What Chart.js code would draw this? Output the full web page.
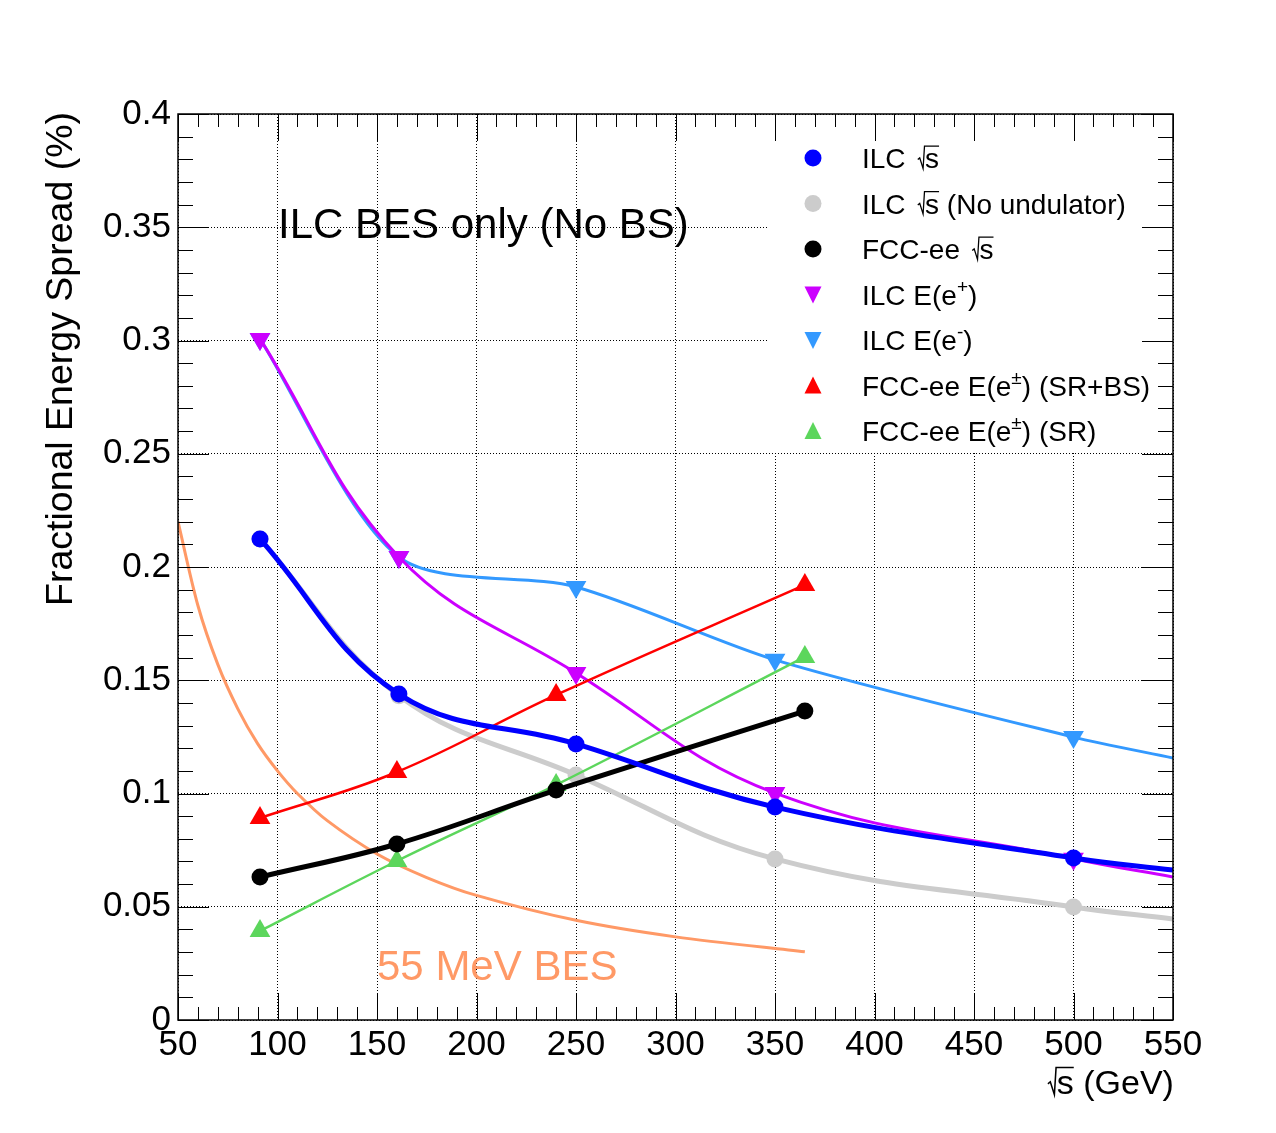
<!DOCTYPE html>
<html>
<head>
<meta charset="utf-8">
<script src="https://cdn.jsdelivr.net/npm/chart.js@4.4.1/dist/chart.umd.min.js"></script>
<style>
  html, body { margin: 0; padding: 0; background: #fff; }
  canvas { display: block; }
</style>
</head>
<body>
<canvas id="besChart" width="1276" height="1133"></canvas>
<script>
// energy points (GeV) and spreads (%)
const xIlc = [91.2, 161, 250, 350, 500, 550];
const ilcSqrtS = [0.2124, 0.1439, 0.1219, 0.0940, 0.0715, 0.0662];
const ilcNoUnd = [0.2124, 0.1432, 0.1082, 0.0711, 0.0499, 0.0446];
const ilcEplus = [0.3007, 0.2044, 0.1532, 0.1002, 0.0712, 0.0631];
const ilcEminus = [0.3007, 0.2044, 0.1912, 0.1590, 0.1249, 0.1157];

const xFcc = [91.2, 160, 240, 365];
const fccSqrtS = [0.0631, 0.0777, 0.1015, 0.1364];
const fccSrBs = [0.0892, 0.1095, 0.1435, 0.1921];
const fccSr = [0.0393, 0.0702, 0.1038, 0.1603];

const xBes = [50, 60, 70, 80, 90, 100, 110, 125, 150, 175, 200, 250, 300, 365];
const bes55 = [0.22, 0.183, 0.157, 0.1375, 0.122, 0.11, 0.1, 0.088, 0.0733, 0.0629, 0.055, 0.044, 0.0367, 0.0301];

const xTicks = [50, 100, 150, 200, 250, 300, 350, 400, 450, 500, 550];
const yTicks = [0, 0.05, 0.1, 0.15, 0.2, 0.25, 0.3, 0.35, 0.4];

const FONT = '"Liberation Sans", Arial, Helvetica, sans-serif';

function pts(xs, ys) {
    return ys.map((y, i) => ({ x: xs[i], y: y }));
}

// last ILC point is only the curve at the frame edge, no marker there
const ilcRadius = r => ctx => ctx.dataIndex === xIlc.length - 1 ? 0 : r;

function series(label, xs, ys, color, width, style, radius, rot) {
    return {
        label: label,
        data: pts(xs, ys),
        showLine: true,
        borderColor: color,
        backgroundColor: color,
        borderWidth: width,
        tension: 0.4,
        pointStyle: style,
        pointRadius: radius,
        pointRotation: rot || 0,
        pointBorderWidth: 0,
        pointHoverRadius: radius
    };
}

const datasets = [
    series('ILC sqrt s', xIlc, ilcSqrtS, '#0000ff', 5, 'circle', ilcRadius(8.5)),
    series('FCC-ee sqrt s', xFcc, fccSqrtS, '#000000', 5, 'circle', 8.5),
    series('FCC-ee SR+BS', xFcc, fccSrBs, '#ff0000', 2.5, 'triangle', 12),
    series('FCC-ee SR', xFcc, fccSr, '#5cd65c', 2.5, 'triangle', 12),
    series('ILC E(e+)', xIlc, ilcEplus, '#cc00ff', 3, 'triangle', ilcRadius(12), 180),
    series('ILC E(e-)', xIlc, ilcEminus, '#3399ff', 3, 'triangle', ilcRadius(12), 180),
    series('ILC no undulator', xIlc, ilcNoUnd, '#cccccc', 5, 'circle', ilcRadius(8.5)),
    series('55 MeV BES', xBes, bes55, '#ff9966', 3, 'circle', 0)
];
datasets[5].tension = 0.28;
datasets[7].tension = 0.3;

const legendRows = [
    { color: '#0000ff', shape: 'circle', parts: [{ t: 'ILC  ' }, { t: 's', sqrt: true }] },
    { color: '#cccccc', shape: 'circle', parts: [{ t: 'ILC  ' }, { t: 's', sqrt: true }, { t: ' (No undulator)' }] },
    { color: '#000000', shape: 'circle', parts: [{ t: 'FCC-ee  ' }, { t: 's', sqrt: true }] },
    { color: '#cc00ff', shape: 'down', parts: [{ t: 'ILC E(e' }, { t: '+', sup: true }, { t: ')' }] },
    { color: '#3399ff', shape: 'down', parts: [{ t: 'ILC E(e' }, { t: '-', sup: true }, { t: ')' }] },
    { color: '#ff0000', shape: 'up', parts: [{ t: 'FCC-ee E(e' }, { t: '\u00b1', sup: true }, { t: ') (SR+BS)' }] },
    { color: '#5cd65c', shape: 'up', parts: [{ t: 'FCC-ee E(e' }, { t: '\u00b1', sup: true }, { t: ') (SR)' }] }
];

// draws text pieces with superscripts and a drawn radical sign
function drawRich(ctx, parts, x, y, size) {
    ctx.textAlign = 'left';
    ctx.textBaseline = 'alphabetic';
    parts.forEach(p => {
        if (p.sup) {
            ctx.font = Math.round(size * 0.68) + 'px ' + FONT;
            ctx.fillText(p.t, x, y - size * 0.42);
            x += ctx.measureText(p.t).width;
        } else if (p.sqrt) {
            ctx.font = size + 'px ' + FONT;
            const w = ctx.measureText(p.t).width;
            const top = y - size * 0.78;
            ctx.save();
            ctx.lineWidth = Math.max(1, size / 22);
            ctx.strokeStyle = ctx.fillStyle;
            ctx.beginPath();
            ctx.moveTo(x - size * 0.12, y - size * 0.3);
            ctx.lineTo(x - size * 0.05, y - size * 0.36);
            ctx.lineTo(x + size * 0.07, y + size * 0.02);
            ctx.lineTo(x + size * 0.12, top);
            ctx.lineTo(x + size * 0.14 + w, top);
            ctx.stroke();
            ctx.restore();
            ctx.fillText(p.t, x + size * 0.14, y);
            x += w + size * 0.14;
        } else {
            ctx.font = size + 'px ' + FONT;
            ctx.fillText(p.t, x, y);
            x += ctx.measureText(p.t).width;
        }
    });
}

function marker(ctx, shape, x, y, color) {
    ctx.fillStyle = color;
    ctx.beginPath();
    if (shape === 'circle') {
        ctx.arc(x, y, 8.5, 0, Math.PI * 2);
    } else if (shape === 'up') {
        ctx.moveTo(x, y - 9);
        ctx.lineTo(x + 8.5, y + 8);
        ctx.lineTo(x - 8.5, y + 8);
        ctx.closePath();
    } else {
        ctx.moveTo(x, y + 9);
        ctx.lineTo(x + 8.5, y - 8);
        ctx.lineTo(x - 8.5, y - 8);
        ctx.closePath();
    }
    ctx.fill();
}

const rootStyle = {
    id: 'rootStyle',
    afterDatasetsDraw(chart) {
        const ctx = chart.ctx;
        const a = chart.chartArea;
        ctx.save();
        // legend box
        ctx.fillStyle = '#ffffff';
        ctx.fillRect(768, a.top + 1, a.right - 768, 453 - a.top - 1);
        legendRows.forEach((row, i) => {
            const y = 158 + i * 45.5;
            marker(ctx, row.shape, 813, y, row.color);
            ctx.fillStyle = '#000000';
            drawRich(ctx, row.parts, 862, y + 10, 28);
        });
        // labels inside the frame
        ctx.fillStyle = '#000000';
        ctx.font = '42px ' + FONT;
        ctx.textAlign = 'left';
        ctx.textBaseline = 'alphabetic';
        ctx.fillText('ILC BES only (No BS)', 278, 238);
        ctx.fillStyle = '#ff9966';
        ctx.fillText('55 MeV BES', 377, 980);
        ctx.restore();
    },
    afterDraw(chart) {
        const ctx = chart.ctx;
        const a = chart.chartArea;
        const xs = chart.scales.x, ys = chart.scales.y;
        ctx.save();
        ctx.strokeStyle = '#000000';
        ctx.lineWidth = 1;
        ctx.beginPath();
        for (let v = 50; v <= 550; v += 10) {
            const px = Math.round(xs.getPixelForValue(v)) + 0.5;
            const len = v % 50 === 0 ? 27 : 13;
            ctx.moveTo(px, a.bottom); ctx.lineTo(px, a.bottom - len);
            ctx.moveTo(px, a.top); ctx.lineTo(px, a.top + len);
        }
        for (let i = 0; i <= 40; i++) {
            const py = Math.round(ys.getPixelForValue(i / 100)) + 0.5;
            const len = i % 5 === 0 ? 31 : 15;
            ctx.moveTo(a.left, py); ctx.lineTo(a.left + len, py);
            ctx.moveTo(a.right, py); ctx.lineTo(a.right - len, py);
        }
        ctx.stroke();
        ctx.lineWidth = 1.5;
        ctx.strokeRect(Math.round(a.left), Math.round(a.top), Math.round(a.right - a.left), Math.round(a.bottom - a.top));

        // axis titles
        ctx.fillStyle = '#000000';
        drawRich(ctx, [{ t: 's', sqrt: true }, { t: ' (GeV)' }], 1052, 1094, 34);
        ctx.translate(72, 112);
        ctx.rotate(-Math.PI / 2);
        ctx.font = '37.5px ' + FONT;
        ctx.textAlign = 'right';
        ctx.textBaseline = 'alphabetic';
        ctx.fillText('Fractional Energy Spread (%)', 0, 0);
        ctx.restore();
    }
};

new Chart(document.getElementById('besChart'), {
    type: 'scatter',
    data: { datasets: datasets },
    options: {
        responsive: false,
        animation: false,
        devicePixelRatio: 1,
        layout: { padding: { left: 0, top: 114, right: 103, bottom: 0 } },
        plugins: {
            legend: { display: false },
            tooltip: { enabled: false }
        },
        scales: {
            x: {
                type: 'linear',
                min: 50,
                max: 550,
                afterFit: s => { s.height = 113; },
                afterBuildTicks: s => { s.ticks = xTicks.map(v => ({ value: v })); },
                grid: { color: '#000000', lineWidth: 1, drawTicks: false },
                border: { display: false, dash: [1, 2] },
                ticks: {
                    autoSkip: false,
                    maxRotation: 0,
                    padding: 4,
                    color: '#000000',
                    font: { family: FONT, size: 35 }
                }
            },
            y: {
                type: 'linear',
                min: 0,
                max: 0.4,
                afterFit: s => { s.width = 178; },
                afterBuildTicks: s => { s.ticks = yTicks.map(v => ({ value: v })); },
                grid: { color: '#000000', lineWidth: 1, drawTicks: false },
                border: { display: false, dash: [1, 2] },
                ticks: {
                    autoSkip: false,
                    padding: 7,
                    color: '#000000',
                    font: { family: FONT, size: 35 },
                    callback: v => String(+v.toFixed(2))
                }
            }
        }
    },
    plugins: [rootStyle]
});
</script>
</body>
</html>
